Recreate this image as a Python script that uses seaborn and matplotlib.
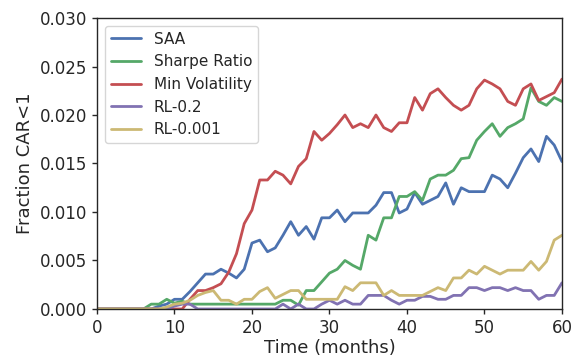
import numpy as np
import pandas as pd
import seaborn as sns
import matplotlib
matplotlib.use("Agg")
import matplotlib.pyplot as plt
from matplotlib.ticker import FormatStrFormatter

months = list(range(61))

saa = [0]*8 + [0.0003, 0.0005, 0.001, 0.001, 0.0018, 0.0027, 0.0036, 0.0036, 0.0041, 0.0037,
               0.0032, 0.0041, 0.0068, 0.0071, 0.0059, 0.0063, 0.0076, 0.009, 0.0076, 0.0085,
               0.0072, 0.0094, 0.0094, 0.0102, 0.009, 0.0099, 0.0099, 0.0099, 0.0107, 0.012,
               0.012, 0.0099, 0.0103, 0.012, 0.0108, 0.0112, 0.0116, 0.013, 0.0108, 0.0125,
               0.0121, 0.0121, 0.0121, 0.0138, 0.0134, 0.0125, 0.014, 0.0156, 0.0165, 0.0152,
               0.0178, 0.0169, 0.0152]

sharpe = [0]*7 + [0.0005, 0.0005, 0.001, 0.0006, 0.0008] + [0.0005]*12 + \
         [0.0009, 0.0009, 0.0004, 0.0019, 0.0019, 0.0028, 0.0037, 0.0041, 0.005, 0.0045,
          0.0041, 0.0076, 0.0071, 0.0094, 0.0094, 0.0116, 0.0116, 0.0121, 0.0112, 0.0134,
          0.0138, 0.0138, 0.0143, 0.0155, 0.0156, 0.0174, 0.0183, 0.0191, 0.0178, 0.0187,
          0.0191, 0.0196, 0.0228, 0.0214, 0.021, 0.0218, 0.0214]

minvol = [0]*12 + [0.001, 0.0019, 0.0019, 0.0022, 0.0026, 0.0038, 0.0057, 0.0088, 0.0102, 0.0133,
                   0.0133, 0.0142, 0.0138, 0.0129, 0.0147, 0.0155, 0.0183, 0.0174, 0.0181, 0.019,
                   0.02, 0.0187, 0.0191, 0.0187, 0.02, 0.0187, 0.0183, 0.0192, 0.0192, 0.0218,
                   0.0205, 0.0222, 0.0227, 0.0218, 0.021, 0.0205, 0.021, 0.0227, 0.0236, 0.0232,
                   0.0227, 0.0214, 0.021, 0.0227, 0.0232, 0.0215, 0.0219, 0.0223, 0.0237]

rl02 = [0]*10 + [0.0003, 0.0005, 0.0005] + [0]*11 + \
       [0.0005, 0, 0.0005, 0, 0, 0.0005, 0.0009, 0.0005, 0.0009, 0.0005,
        0.0005, 0.0014, 0.0014, 0.0014, 0.0009, 0.0005, 0.0009, 0.0009, 0.0013, 0.0013,
        0.001, 0.001, 0.0014, 0.0014, 0.0022, 0.0022, 0.0019, 0.0022, 0.0022, 0.0019,
        0.0022, 0.0019, 0.0019, 0.001, 0.0014, 0.0014, 0.0027]

rl0001 = [0]*9 + [0.0002, 0.0005, 0.0006, 0.0009, 0.0014, 0.0017, 0.0019, 0.0009, 0.0009, 0.0005,
                  0.001, 0.001, 0.0018, 0.0022, 0.0011, 0.0015, 0.0019, 0.0019, 0.001, 0.001,
                  0.001, 0.001, 0.001, 0.0023, 0.0019, 0.0027, 0.0027, 0.0027, 0.0014, 0.0019,
                  0.0014, 0.0014, 0.0014, 0.0014, 0.0018, 0.0022, 0.0019, 0.0032, 0.0032, 0.004,
                  0.0036, 0.0044, 0.004, 0.0036, 0.004, 0.004, 0.004, 0.0049, 0.004, 0.0049,
                  0.0071, 0.0076]

series_names = ["SAA", "Sharpe Ratio", "Min Volatility", "RL-0.2", "RL-0.001"]
series_values = [saa, sharpe, minvol, rl02, rl0001]
colors = ["#4C72B0", "#55A868", "#C44E52", "#8172B2", "#CCB974"]

frames = []
for name, vals in zip(series_names, series_values):
    assert len(vals) == len(months), (name, len(vals))
    frames.append(pd.DataFrame({"Time (months)": months, "value": vals, "series": name}))
df = pd.concat(frames, ignore_index=True)

sns.set_style("ticks")
plt.rcParams['font.family'] = ['DejaVu Sans']

fig = plt.figure(figsize=(5.79, 3.58), dpi=100)
ax = fig.add_axes([0.1675, 0.1369, 0.9706 - 0.1675, 0.9497 - 0.1369])
sns.lineplot(data=df, x="Time (months)", y="value", hue="series", hue_order=series_names,
             palette=dict(zip(series_names, colors)), linewidth=2, ax=ax)

ax.set_xlim(0, 60)
ax.set_ylim(0, 0.030)
ax.set_yticks(np.arange(0, 0.0301, 0.005))
ax.set_xticks([0, 10, 20, 30, 40, 50, 60])
ax.yaxis.set_major_formatter(FormatStrFormatter('%.3f'))
ax.set_xlabel("Time (months)", fontsize=13, labelpad=2)
ax.set_ylabel("Fraction CAR<1", fontsize=13)
ax.tick_params(labelsize=12, length=3.5, width=1)
for sp in ax.spines.values():
    sp.set_visible(True)
    sp.set_color('0.15')
    sp.set_linewidth(1)
leg = ax.legend(loc="upper left", fontsize=11, frameon=True, framealpha=0.8,
                edgecolor='0.8', fancybox=True)
for line in leg.get_lines():
    line.set_linewidth(2)

fig.savefig("out.png", dpi=100)
